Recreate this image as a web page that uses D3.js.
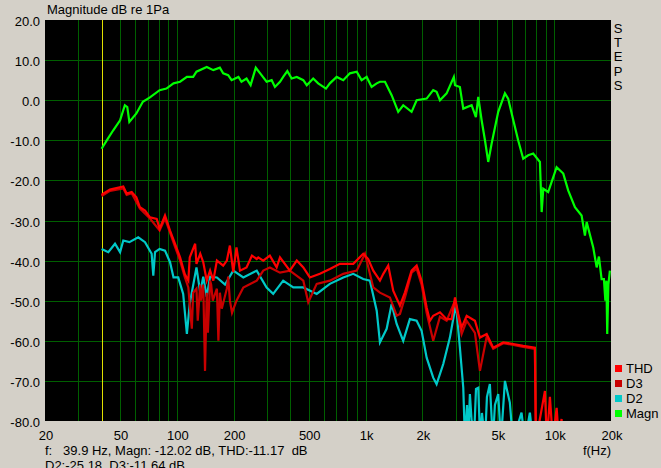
<!DOCTYPE html>
<html>
<head>
<meta charset="utf-8">
<script src="https://cdn.jsdelivr.net/npm/d3@7"></script>
<style>
  body { margin: 0; background: #d4d0c8; }
  text { font-family: "Liberation Sans", Arial, sans-serif; font-size: 13px; fill: #000; }
</style>
</head>
<body>
<div id="chart"></div>
<script>
var svgWidth = 661;
var svgHeight = 468;

// plot area (black box)
var margin = { top: 20, right: 50, bottom: 47, left: 45 };
var chartWidth = svgWidth - margin.left - margin.right;
var chartHeight = svgHeight - margin.top - margin.bottom;

// ---- data (Hz, dB) ----
var magnFreq = [39.9, 42.5, 46, 50, 53, 54.6, 56, 61, 66, 72, 81, 88, 96, 104, 113, 122, 127, 144, 156, 169, 176, 187, 195, 212, 220, 234, 246, 262, 281, 299, 318, 331, 352, 366, 385, 406, 432, 468, 488, 528, 561, 617, 647, 703, 762, 826, 898, 953, 1014, 1077, 1146, 1192, 1268, 1375, 1490, 1584, 1754, 1866, 2108, 2284, 2380, 2480, 2690, 2938, 2980, 3163, 3296, 3650, 3845, 3958, 4124, 4295, 4470, 4660, 5050, 5480, 5700, 6070, 6440, 6850, 7280, 7740, 8400, 8580, 8750, 9290, 10300, 11170, 11860, 12880, 13970, 14550, 14860, 16100, 16790, 17260, 17830, 18340, 18670, 18910, 19100, 19370, 19730];
var magnDb = [-12.1, -10, -7.5, -5, -1.25, -1.7, -5.4, -3.3, -0.4, 0.7, 2.5, 2.9, 4.2, 4.6, 5.8, 5.8, 7.1, 8.3, 7.5, 8.1, 6.7, 6.25, 5, 5.8, 4.6, 5.4, 3.75, 8.1, 6.25, 4.6, 5, 3.3, 4.6, 5.8, 7.25, 5.4, 5.8, 5, 3.75, 5.4, 4.2, 2.9, 4.2, 5.8, 5, 6.7, 7.1, 5, 5.8, 3.3, 4.2, 4.6, 4.6, 1.25, -2.9, -1.25, -2.9, 0, 0.4, 2.5, 2.1, 0, 1.7, 5.8, 3.75, 3.3, -2.1, -1.25, -4.2, 0.8, -5, -10, -15.4, -10.8, -2.9, 1.7, 0.4, -5, -10, -14.6, -13.75, -13.3, -15.4, -27.9, -22.1, -22.9, -16.7, -18.3, -22.5, -26.7, -28.75, -33.75, -30.4, -36.7, -41.7, -39, -44.6, -44.6, -50, -45, -58.3, -46, -42.5];

var thdFreq = [39.9, 40.7, 44.2, 52, 54.2, 57.6, 61, 63.7, 67.8, 72, 78.2, 81, 86.5, 92, 97.7, 104, 110, 115, 117, 125, 127, 133, 138, 144, 150, 156, 163, 176, 184, 191, 199, 207, 216, 234, 250, 265, 270, 287, 311, 338, 352, 397, 432, 468, 507, 573, 647, 731, 861, 972, 1033, 1099, 1192, 1242, 1319, 1402, 1522, 1618, 1754, 1866, 1982, 2108, 2194, 2284, 2480, 2690, 2860, 2980, 3100, 3230, 3436, 3800, 4040, 4386, 4750, 5370, 6070, 6850, 7900, 8000, 8930, 9140, 9490, 9840, 10300, 10600, 10940, 11120];
var thdDb = [-23.6, -23.3, -22.3, -21.5, -23.3, -22.9, -24.2, -26.7, -27.5, -29.2, -29.6, -32.1, -28.75, -32.5, -35.8, -39.2, -43.3, -45, -39.2, -35.8, -40.8, -38.3, -40.4, -45, -42.5, -45, -40, -41.25, -40, -36.25, -42.9, -36.7, -42.5, -41.7, -38.75, -39.6, -39.2, -40, -38.75, -41.7, -39.2, -42.5, -40, -41.7, -44.2, -43.3, -42.1, -40.8, -40.8, -38.3, -39.6, -42.5, -45, -43.3, -41.25, -47.5, -51.25, -47.9, -42.5, -41.25, -45, -51.7, -55, -53.75, -52.9, -54.6, -54.6, -49.2, -53.3, -56.7, -53.75, -55, -59.2, -58.3, -61.7, -60.4, -60.8, -61.25, -61.7, -85, -72.5, -85, -74, -85, -76.7, -85, -79.5, -85];

var d3Freq = [39.9, 44.2, 52, 54.2, 57.6, 63.7, 72, 81, 86.5, 92, 97.7, 104, 110, 115, 120, 122, 127, 129, 133, 134, 138, 141, 144, 146, 150, 152, 155, 163, 166, 169, 173, 184, 187, 191, 196, 207, 225, 265, 287, 311, 352, 397, 468, 497, 551, 647, 762, 898, 993, 1099, 1192, 1346, 1462, 1522, 1618, 1754, 1866, 1982, 2108, 2284, 2480, 2690, 2980, 3230, 3436, 3800, 4040, 4386, 4750, 5370, 6070, 6850, 7900, 8000];
var d3Db = [-23.9, -22.6, -22, -23.6, -23.2, -27, -29.5, -32.5, -29.5, -33, -36.5, -40, -44, -46.7, -57, -48, -47, -55, -46, -50, -46, -67.5, -48, -58, -45, -46, -50, -47, -60, -48, -52, -47, -44, -50, -53, -50, -46.7, -45, -42.5, -41.7, -43, -42.5, -45, -50.4, -45.8, -45, -43.3, -42.5, -38.3, -46.7, -48, -49.2, -53.75, -53.3, -49.2, -43, -42, -46, -53, -60, -54, -55, -50, -58.3, -55, -58, -67.5, -59, -62, -60.6, -61, -61.5, -62, -85];

var d2Freq = [39.9, 43.3, 47, 50, 52, 56, 62.4, 67.8, 73.5, 75, 76.6, 81, 86.5, 92, 96, 101.7, 108, 113, 117, 127, 133, 138, 144, 150, 163, 180, 199, 225, 265, 299, 324, 366, 414, 468, 551, 647, 762, 861, 972, 1055, 1146, 1192, 1294, 1375, 1462, 1584, 1718, 1866, 1982, 2108, 2284, 2380, 2582, 2800, 3014, 3163, 3296, 3365, 3450, 3500, 3574, 3650, 3754, 3850, 3958, 4050, 4140, 4300, 4400, 4560, 4730, 4850, 5050, 5220, 5480, 5820, 6040, 6710, 7000, 7430, 7710];
var d2Db = [-37.1, -37.9, -35.8, -37.9, -35, -35.4, -34.2, -35.4, -38.3, -43.75, -37.9, -37.1, -37.5, -40.4, -44.2, -44.2, -48.3, -58.3, -50.8, -41.7, -48, -44, -49, -44, -44.2, -46, -42.5, -44.2, -42.5, -46.7, -48.3, -45, -46.7, -46.7, -48.3, -45.8, -44.2, -43.3, -44.6, -45, -52.5, -60.4, -57, -50.8, -55.8, -60, -54.6, -55, -57.5, -64.2, -69.2, -70.8, -65.8, -59.2, -50.8, -61.7, -71.7, -85, -76, -85, -73.3, -80, -85, -72, -71.7, -85, -78, -85, -74, -70.8, -85, -76, -73.3, -85, -70, -75.4, -85, -77.9, -85, -77.9, -85];

var xTicks = [20, 50, 100, 200, 500, 1000, 2000, 5000, 10000, 20000];
var xTickLabels = ["20", "50", "100", "200", "500", "1k", "2k", "5k", "10k", "20k"];
var xGrid = [30, 40, 50, 60, 70, 80, 90, 100, 200, 300, 400, 500, 600, 700, 800, 900, 1000, 2000, 3000, 4000, 5000, 6000, 7000, 8000, 9000, 10000];
var yTicks = [20, 10, 0, -10, -20, -30, -40, -50, -60, -70, -80];
var cursorFreq = 39.9;

var legendNames = ["THD", "D3", "D2", "Magn"];
var legendColors = ["#ff0000", "#c80000", "#00c8c8", "#00ff00"];

var svg = d3.select("#chart")
    .append("svg")
    .attr("width", svgWidth)
    .attr("height", svgHeight);

svg.append("rect")
    .attr("width", svgWidth)
    .attr("height", svgHeight)
    .attr("fill", "#d4d0c8");

var xScale = d3.scaleLog()
    .domain([20, 20000])
    .range([margin.left, margin.left + chartWidth]);

var yScale = d3.scaleLinear()
    .domain([-80, 20])
    .range([margin.top + chartHeight, margin.top]);

svg.append("clipPath").attr("id", "plotclip")
    .append("rect")
    .attr("x", margin.left)
    .attr("y", margin.top)
    .attr("width", chartWidth)
    .attr("height", chartHeight);

svg.append("rect")
    .attr("x", margin.left)
    .attr("y", margin.top)
    .attr("width", chartWidth)
    .attr("height", chartHeight)
    .attr("fill", "#000");

var grid = svg.append("g")
    .attr("stroke", "#005f00")
    .attr("stroke-width", 1)
    .attr("shape-rendering", "crispEdges");

grid.selectAll("line.v")
    .data(xGrid)
    .enter()
    .append("line")
    .attr("x1", d => Math.round(xScale(d)) + 0.5)
    .attr("x2", d => Math.round(xScale(d)) + 0.5)
    .attr("y1", margin.top)
    .attr("y2", margin.top + chartHeight);

grid.selectAll("line.h")
    .data(yTicks.slice(1, -1))
    .enter()
    .append("line")
    .attr("x1", margin.left)
    .attr("x2", margin.left + chartWidth)
    .attr("y1", d => Math.round(yScale(d)) + 0.5)
    .attr("y2", d => Math.round(yScale(d)) + 0.5);

// cursor
svg.append("line")
    .attr("x1", Math.round(xScale(cursorFreq)) + 0.5)
    .attr("x2", Math.round(xScale(cursorFreq)) + 0.5)
    .attr("y1", margin.top)
    .attr("y2", margin.top + chartHeight)
    .attr("stroke", "#e0e000")
    .attr("shape-rendering", "crispEdges");

var plot = svg.append("g").attr("clip-path", "url(#plotclip)");

function drawCurve(freqs, vals, color) {
    var pts = freqs.map((f, i) => [f, vals[i]]);
    var line = d3.line()
        .x(d => xScale(d[0]))
        .y(d => yScale(d[1]));
    plot.append("path")
        .datum(pts)
        .attr("d", line)
        .attr("fill", "none")
        .attr("stroke", color)
        .attr("stroke-width", 2.2)
        .attr("stroke-linejoin", "miter");
}

drawCurve(d2Freq, d2Db, legendColors[2]);
drawCurve(d3Freq, d3Db, legendColors[1]);
drawCurve(thdFreq, thdDb, legendColors[0]);
drawCurve(magnFreq, magnDb, legendColors[3]);

// y labels
svg.selectAll("text.ylab")
    .data(yTicks)
    .enter()
    .append("text")
    .attr("x", 40)
    .attr("y", d => yScale(d) + 6)
    .attr("text-anchor", "end")
    .text(d => d.toFixed(1));

// x labels
svg.selectAll("text.xlab")
    .data(xTicks)
    .enter()
    .append("text")
    .attr("x", d => xScale(d) + 1)
    .attr("y", 440)
    .attr("text-anchor", "middle")
    .text((d, i) => xTickLabels[i]);

svg.append("text")
    .attr("x", 597)
    .attr("y", 455)
    .attr("text-anchor", "middle")
    .text("f(Hz)");

svg.append("text")
    .attr("x", 47)
    .attr("y", 14)
    .text("Magnitude dB re 1Pa");

// STEPS vertical
var steps = "STEPS".split("");
svg.selectAll("text.steps")
    .data(steps)
    .enter()
    .append("text")
    .attr("x", 618)
    .attr("y", (d, i) => 33 + i * 14.2)
    .attr("text-anchor", "middle")
    .text(d => d);

// legend
var legend = svg.selectAll("g.leg")
    .data(legendNames)
    .enter()
    .append("g")
    .attr("transform", (d, i) => `translate(615, ${368 + i * 15})`);

legend.append("rect")
    .attr("x", 0)
    .attr("y", -3)
    .attr("width", 7)
    .attr("height", 7)
    .attr("fill", (d, i) => legendColors[i]);

legend.append("text")
    .attr("x", 11)
    .attr("y", 5)
    .text(d => d);

// status lines
svg.append("text")
    .attr("x", 45)
    .attr("y", 455)
    .style("white-space", "pre")
    .text("f:   39.9 Hz, Magn: -12.02 dB, THD:-11.17  dB");

svg.append("text")
    .attr("x", 45)
    .attr("y", 470)
    .style("white-space", "pre")
    .text("D2:-25.18, D3:-11.64 dB");
</script>
</body>
</html>
